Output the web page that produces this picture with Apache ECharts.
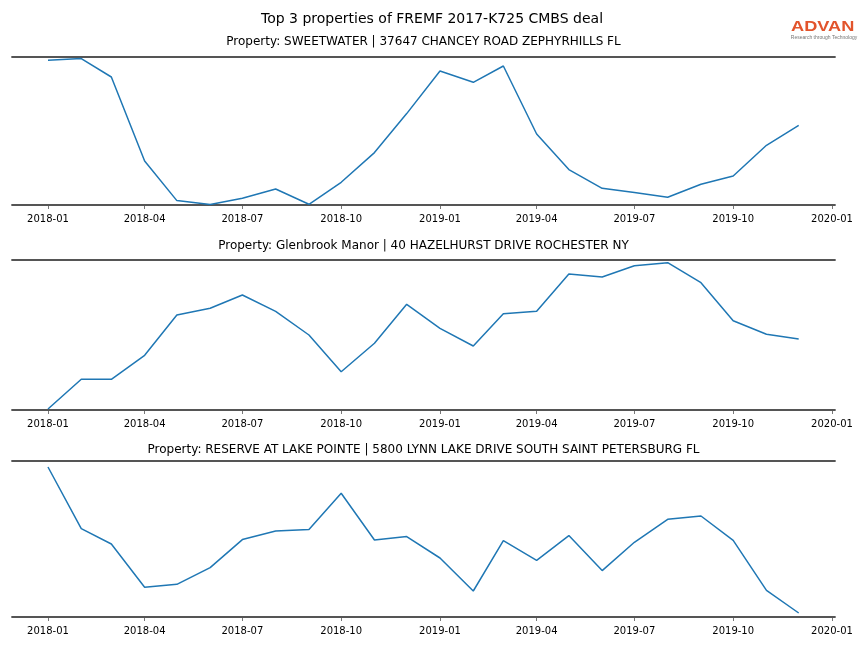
<!DOCTYPE html>
<html>
<head>
<meta charset="utf-8">
<script src="https://cdn.jsdelivr.net/npm/echarts@6/dist/echarts.min.js"></script>
<style>html,body{margin:0;padding:0;background:#fff;}#c{width:864px;height:648px;}</style>
</head>
<body>
<div id="c"></div>
<script>
// ---- data ----
const months = ['2018-01','2018-02','2018-03','2018-04','2018-05','2018-06','2018-07','2018-08','2018-09','2018-10','2018-11','2018-12',
                '2019-01','2019-02','2019-03','2019-04','2019-05','2019-06','2019-07','2019-08','2019-09','2019-10','2019-11','2019-12'];
const tickLabels = ['2018-01','2018-04','2018-07','2018-10','2019-01','2019-04','2019-07','2019-10','2020-01'];
const chartTitle = 'Top 3 properties of FREMF 2017-K725 CMBS deal';
const propertyTitles = [
  'Property: SWEETWATER | 37647 CHANCEY ROAD ZEPHYRHILLS FL',
  'Property: Glenbrook Manor | 40 HAZELHURST DRIVE ROCHESTER NY',
  'Property: RESERVE AT LAKE POINTE | 5800 LYNN LAKE DRIVE SOUTH SAINT PETERSBURG FL'
];
const sweetwater = [144.7,146.4,128.0,44.0,4.4,0.4,6.7,16.0,0.7,22.7,52.4,91.4,
                    134.0,122.7,139.0,71.0,35.4,16.7,12.4,7.7,20.7,29.0,59.7,79.7];
const glenbrook  = [1.0,30.7,30.7,54.7,95.0,101.7,115.0,98.7,75.0,38.3,66.7,105.7,
                    81.7,64.0,96.3,98.7,136.0,133.0,144.3,147.3,127.3,89.3,75.7,71.0];
const reserve    = [150.0,88.4,73.0,29.7,32.7,49.4,77.4,86.0,87.4,123.7,77.0,80.4,
                    59.0,26.0,76.4,56.7,81.4,46.4,74.7,97.7,101.0,76.7,26.7,4.0];
const yRanges = [[0,148],[0,150],[0,156]];
const seriesValues = [sweetwater, glenbrook, reserve];

// ---- helpers ----
function ts(s){ const [y,m] = s.split('-').map(Number); return Date.UTC(y, m-1, 1); }
function fmt(v){ const d = new Date(v); return d.getUTCFullYear() + '-' + String(d.getUTCMonth()+1).padStart(2,'0'); }
const DAY = 86400000;
const xMin = Date.UTC(2018,0,1) - 33.5*DAY;
const xMax = Date.UTC(2020,0,1) + 2.8*DAY;
const tickValues = tickLabels.map(ts);

const grids = [
  {left:12, right:29, top:57, height:148},
  {left:12, right:29, top:260, height:150},
  {left:12, right:29, top:461, height:156}
];
const spine = {show:true, lineStyle:{color:'#555', width:1.8}};
const xAxes = [], yAxes = [], series = [];
grids.forEach((g,i)=>{
  xAxes.push({
    type:'value', gridIndex:i, min:xMin, max:xMax, position:'bottom',
    axisLine:spine, splitLine:{show:false},
    axisTick:{show:true, length:4, lineStyle:{color:'#555', width:0.8}, customValues:tickValues},
    axisLabel:{show:true, fontSize:10, color:'#000', margin:9, fontFamily:'DejaVu Sans',
               customValues:tickValues, formatter:fmt}
  });
  xAxes.push({
    type:'value', gridIndex:i, min:xMin, max:xMax, position:'top',
    axisLine:spine, axisTick:{show:false}, axisLabel:{show:false}, splitLine:{show:false}
  });
  yAxes.push({type:'value', gridIndex:i, min:yRanges[i][0], max:yRanges[i][1],
    axisLine:{show:false}, axisTick:{show:false}, axisLabel:{show:false}, splitLine:{show:false}});
  series.push({
    type:'line', xAxisIndex:2*i, yAxisIndex:i, showSymbol:false, symbol:'none',
    lineStyle:{color:'#1f77b4', width:1.5}, animation:false,
    data: months.map((m,k)=>[ts(m), seriesValues[i][k]])
  });
});

const chart = echarts.init(document.getElementById('c'), null, {renderer:'canvas'});
const subY = [42, 246, 450];
chart.setOption({
  animation:false,
  backgroundColor:'#fff',
  grid:grids, xAxis:xAxes, yAxis:yAxes, series:series,
  graphic:[
    {type:'text', x:432, y:19.5, style:{text:chartTitle, align:'center', verticalAlign:'middle',
      font:'14px "DejaVu Sans"', fill:'#000'}},
    ...propertyTitles.map((t,i)=>({type:'text', x:423.5, y:subY[i], style:{text:t, align:'center', verticalAlign:'middle',
      font:'12px "DejaVu Sans"', fill:'#000'}})),
    {type:'text', x:791, y:27, scaleX:1.3, style:{text:'ADVAN', align:'left', verticalAlign:'middle',
      font:'bold 14px "Liberation Sans"', fill:'#e2542c'}},
    {type:'text', x:824, y:38, style:{text:'Research through Technology', align:'center', verticalAlign:'middle',
      font:'5px "Liberation Sans"', fill:'#777'}}
  ]
});
</script>
</body>
</html>
